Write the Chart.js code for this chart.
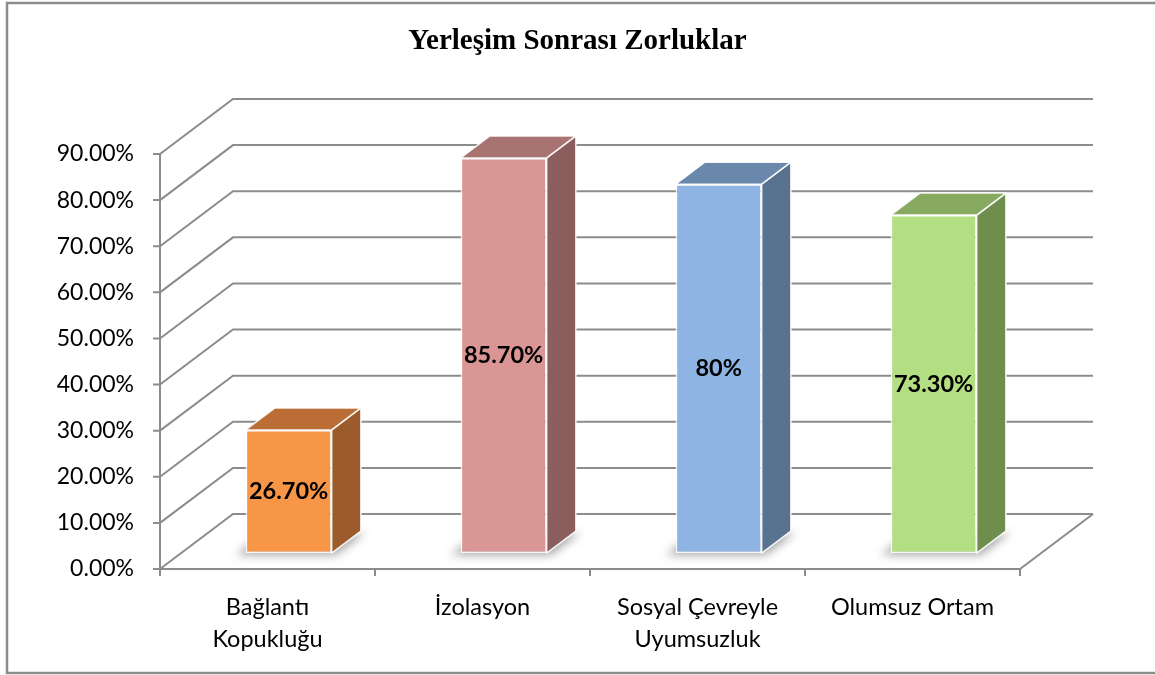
<!DOCTYPE html>
<html>
<head>
<meta charset="utf-8">
<script src="https://cdn.jsdelivr.net/npm/chart.js@4.4.1/dist/chart.umd.min.js"></script>
<style>
  html, body { margin: 0; padding: 0; background: #fff; }
  #wrap { width: 1155px; height: 675px; }
</style>
</head>
<body>
<div id="wrap"><canvas id="BarChart"></canvas></div>
<script>
const categories = [['Bağlantı', 'Kopukluğu'], ['İzolasyon'], ['Sosyal Çevreyle', 'Uyumsuzluk'], ['Olumsuz Ortam']];
const values = [26.7, 85.7, 80, 73.3];
const valueLabels = ['26.70%', '85.70%', '80%', '73.30%'];
const yTicks = [0, 10, 20, 30, 40, 50, 60, 70, 80, 90];

const frontColors = ['#F79646', '#D99694', '#8EB4E3', '#B3DE81'];
const topColors = ['#BA6E35', '#A87472', '#6A87AC', '#87AA60'];
const sideColors = ['#9C5B2B', '#8A5E5D', '#587290', '#6F8E4E'];

// 3d look: depth of the back wall, where the bars sit in it
const WALL_DX = 73, WALL_DY = 55;
const BAR_FRONT = 0.29, BAR_DEPTH = 0.4;
const GRID = '#8c8c8c';

function poly(c, pts, fill) {
  c.beginPath();
  c.moveTo(pts[0][0], pts[0][1]);
  for (let i = 1; i < pts.length; i++) c.lineTo(pts[i][0], pts[i][1]);
  c.closePath();
  c.fillStyle = fill;
  c.fill();
  c.stroke();
}

const box3d = {
  id: 'box3d',
  beforeDraw(chart) {
    const c = chart.ctx;
    c.save();
    c.fillStyle = '#fff';
    c.fillRect(0, 0, chart.width, chart.height);
    c.strokeStyle = '#8c8c8c';
    c.lineWidth = 2.5;
    c.strokeRect(7, 3, chart.width + 10, 670);
    c.restore();
  },
  beforeDatasetsDraw(chart) {
    const c = chart.ctx, x = chart.scales.x, y = chart.scales.y;
    const L = x.left, R = x.right, B = y.getPixelForValue(0);
    c.save();
    c.strokeStyle = GRID;
    c.lineWidth = 2;
    c.beginPath();
    yTicks.forEach(v => {
      const py = y.getPixelForValue(v);
      c.moveTo(L, py);
      c.lineTo(L + WALL_DX, py - WALL_DY);
      c.lineTo(R + WALL_DX, py - WALL_DY);
      c.moveTo(L - 7, py);
      c.lineTo(L, py);
    });
    // floor
    c.moveTo(L, B);
    c.lineTo(R, B);
    c.lineTo(R + WALL_DX, B - WALL_DY);
    c.moveTo(L, y.getPixelForValue(yTicks[yTicks.length - 1]));
    c.lineTo(L, B + 7);
    for (let i = 0; i <= categories.length; i++) {
      const px = L + (R - L) * i / categories.length;
      c.moveTo(px, B);
      c.lineTo(px, B + 7);
    }
    c.stroke();
    c.restore();
  },
  beforeDatasetDraw(chart, args) {
    const c = chart.ctx;
    c.save();
    c.translate(WALL_DX * BAR_FRONT, -WALL_DY * BAR_FRONT);
    // soft floor shadows
    const dx = WALL_DX * BAR_DEPTH, dy = WALL_DY * BAR_DEPTH;
    c.save();
    c.filter = 'blur(5px)';
    c.strokeStyle = 'transparent';
    args.meta.data.forEach(bar => {
      const p = bar.getProps(['x', 'base', 'width'], true);
      const l = p.x - p.width / 2 - 10, r = p.x + p.width / 2 + 4;
      poly(c, [[l, p.base + 2], [r, p.base + 2], [r + dx, p.base - dy + 2], [l + dx, p.base - dy + 2]], 'rgba(0,0,0,0.35)');
    });
    c.restore();
  },
  afterDatasetDraw(chart, args) {
    const c = chart.ctx;
    const dx = WALL_DX * BAR_DEPTH, dy = WALL_DY * BAR_DEPTH;
    c.lineWidth = 1.5;
    c.lineJoin = 'round';
    c.strokeStyle = 'rgba(255,255,255,0.9)';
    args.meta.data.forEach((bar, i) => {
      const p = bar.getProps(['x', 'y', 'base', 'width'], true);
      const l = p.x - p.width / 2, r = p.x + p.width / 2;
      poly(c, [[r, p.y], [r + dx, p.y - dy], [r + dx, p.base - dy], [r, p.base]], sideColors[i]);
      poly(c, [[l, p.y], [r, p.y], [r + dx, p.y - dy], [l + dx, p.y - dy]], topColors[i]);
      c.fillStyle = '#000';
      c.font = 'bold 23.5px Lato';
      c.textAlign = 'center';
      c.textBaseline = 'middle';
      c.fillText(valueLabels[i], p.x, (p.y + p.base) / 2);
    });
    c.restore();
  }
};

new Chart(document.getElementById('BarChart'), {
  type: 'bar',
  data: {
    labels: categories,
    datasets: [{
      label: '',
      data: values,
      backgroundColor: frontColors,
      borderColor: 'rgba(255,255,255,0.85)',
      borderWidth: 1.5,
      borderSkipped: false,
      categoryPercentage: 1,
      barPercentage: 0.4,
      clip: false
    }]
  },
  options: {
    responsive: true,
    maintainAspectRatio: false,
    devicePixelRatio: 1,
    animation: false,
    plugins: {
      legend: { display: false },
      tooltip: { enabled: false },
      title: {
        display: true,
        text: 'Yerleşim Sonrası Zorluklar',
        color: '#000',
        font: { family: 'Liberation Serif', size: 29, weight: 'bold', lineHeight: 1.2 },
        padding: { top: 24.6, bottom: 94.6 }
      }
    },
    scales: {
      x: {
        grid: { display: false, drawTicks: false },
        border: { display: false },
        ticks: { color: '#000', padding: 21.5, maxRotation: 0, autoSkip: false,
                 font: { family: 'Lato', size: 23.5, lineHeight: 1.4 } },
        afterFit(scale) { scale.height = 106; }
      },
      y: {
        min: 0,
        max: 90,
        grid: { display: false, drawTicks: false },
        border: { display: false },
        ticks: { stepSize: 10, color: '#000', padding: 26,
                 font: { family: 'Lato', size: 23 },
                 callback: v => v.toFixed(2) + '%' },
        afterFit(scale) { scale.width = 160; }
      },
      // empty right-hand space that holds the floor depth
      yRight: {
        position: 'right',
        min: 0,
        max: 90,
        grid: { display: false, drawTicks: false },
        border: { display: false },
        ticks: { display: false },
        afterFit(scale) { scale.width = 135; }
      }
    }
  },
  plugins: [box3d]
});
</script>
</body>
</html>
